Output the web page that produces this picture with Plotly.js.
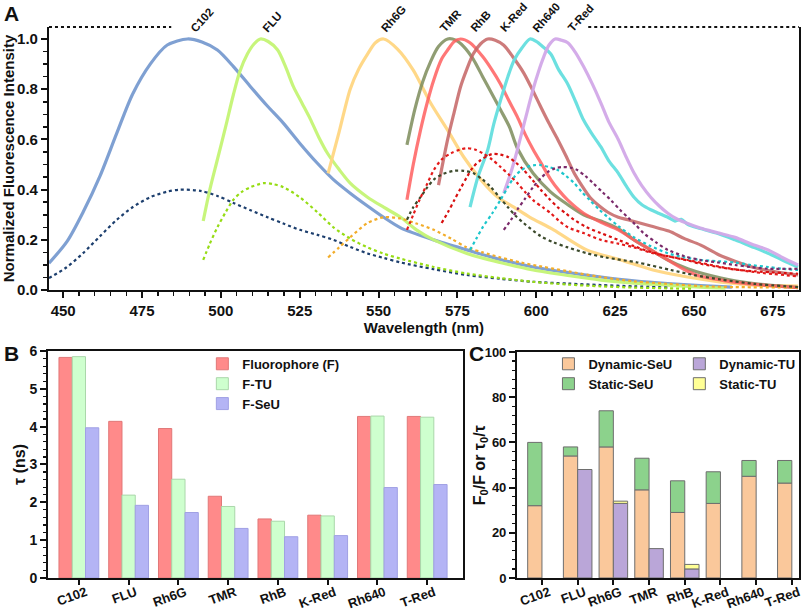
<!DOCTYPE html>
<html>
<head>
<meta charset="utf-8">
<script src="https://cdn.plot.ly/plotly-3.0.1.min.js"></script>
<style>
  html, body { margin: 0; padding: 0; background: #fff; }
  #chart { width: 803px; height: 612px; }
</style>
</head>
<body>
<div id="chart"></div>
<script>
// ---------------- Panel A: emission spectra ----------------
const c102_wl = [445.5, 451.3, 456.3, 461.7, 467, 472, 477.6, 483, 489.4, 494, 498.9, 504, 509.4, 514.6, 519.8, 525, 530.6, 535.7, 541, 546.5, 551.6, 557, 567.5, 578, 588.5, 599, 610, 620.5, 631, 641.7, 652, 662];
const c102_F  = [0.107, 0.195, 0.31, 0.455, 0.625, 0.78, 0.9, 0.976, 1.0, 0.988, 0.956, 0.89, 0.81, 0.735, 0.665, 0.585, 0.505, 0.44, 0.386, 0.335, 0.29, 0.248, 0.2, 0.16, 0.122, 0.092, 0.07, 0.052, 0.037, 0.026, 0.018, 0.012];
const c102_q_wl = [445.5, 451, 456.3, 461.7, 467, 472, 477.6, 483, 487, 493.5, 498.9, 504, 509.4, 514.8, 519.8, 525, 530.6, 535.7, 541, 546.5, 551.6, 557, 567.5, 578, 588.5, 599, 610, 620.5, 631, 641.7];
const c102_q  = [0.048, 0.09, 0.147, 0.215, 0.28, 0.33, 0.37, 0.392, 0.40, 0.395, 0.375, 0.347, 0.318, 0.29, 0.265, 0.24, 0.22, 0.2, 0.172, 0.146, 0.128, 0.11, 0.083, 0.06, 0.045, 0.033, 0.026, 0.02, 0.015, 0.01];

const flu_wl = [494.4, 496.5, 498.9, 501.5, 504, 506, 508.4, 510.5, 512.5, 515, 518, 520.5, 523, 525.7, 528.4, 531, 533.8, 537.5, 541, 546.5, 551.6, 557, 562, 567.5, 578, 588.5, 599, 610, 620.5, 631, 641.7, 652, 660];
const flu_F  = [0.275, 0.4, 0.52, 0.65, 0.78, 0.87, 0.94, 0.98, 1.0, 0.99, 0.956, 0.89, 0.81, 0.745, 0.68, 0.61, 0.545, 0.48, 0.426, 0.37, 0.33, 0.29, 0.24, 0.2, 0.146, 0.11, 0.08, 0.058, 0.04, 0.028, 0.02, 0.012, 0.008];
const flu_q_wl = [494.4, 496.5, 498.9, 501.5, 504, 506.5, 509.4, 513.5, 516.5, 519.8, 525, 530.6, 535.7, 541, 546.5, 551.6, 557, 567.5, 578, 588.5, 599, 610, 620.5, 631, 650];
const flu_q  = [0.12, 0.185, 0.25, 0.31, 0.36, 0.39, 0.41, 0.426, 0.422, 0.41, 0.37, 0.31, 0.25, 0.205, 0.17, 0.145, 0.125, 0.092, 0.066, 0.048, 0.033, 0.022, 0.015, 0.01, 0.005];

const rh6g_wl = [534, 537.5, 541, 543.7, 546.5, 549, 551.6, 556, 561, 566.5, 571.9, 577, 582.4, 587.8, 592.9, 598, 605.5, 616, 626.8, 637, 648, 658.6, 669, 683];
const rh6g_F  = [0.465, 0.63, 0.8, 0.88, 0.94, 0.985, 1.0, 0.96, 0.876, 0.745, 0.637, 0.53, 0.44, 0.37, 0.33, 0.29, 0.24, 0.16, 0.12, 0.08, 0.052, 0.032, 0.02, 0.016];
const rh6g_q_wl = [534, 537.5, 541, 546.5, 551.6, 557, 562, 567.5, 573, 578, 583, 588.7, 595, 599, 610, 620.5, 631, 641.7, 652, 663, 683];
const rh6g_q  = [0.13, 0.17, 0.21, 0.267, 0.29, 0.285, 0.265, 0.24, 0.205, 0.17, 0.15, 0.13, 0.11, 0.1, 0.075, 0.052, 0.035, 0.025, 0.016, 0.012, 0.01];

const tmr_wl = [559, 561.5, 564, 566.5, 569, 571.9, 574.5, 577, 580, 583, 585.8, 588.7, 591.5, 594, 599, 604.6, 610, 615, 620.5, 626, 631, 636.3, 641.7, 648, 658.6, 669, 683];
const tmr_F  = [0.578, 0.72, 0.83, 0.91, 0.97, 1.0, 0.995, 0.97, 0.92, 0.85, 0.785, 0.717, 0.65, 0.565, 0.465, 0.39, 0.34, 0.3, 0.275, 0.245, 0.2, 0.16, 0.12, 0.085, 0.048, 0.026, 0.01];
const tmr_q_wl = [559, 561, 563.3, 565.5, 567.5, 570, 574, 577, 580, 583, 585.6, 588.3, 591, 593.5, 596, 601.4, 605.5, 610, 616, 622, 632, 642.7, 650, 658.6, 669, 683];
const tmr_q  = [0.28, 0.33, 0.37, 0.41, 0.44, 0.46, 0.475, 0.475, 0.466, 0.44, 0.41, 0.37, 0.33, 0.295, 0.267, 0.215, 0.19, 0.17, 0.147, 0.13, 0.11, 0.08, 0.06, 0.042, 0.025, 0.012];

const rhb_wl = [559, 561, 563.3, 565.5, 567.5, 570, 571.9, 574, 576, 579, 583, 585.8, 588.7, 591.3, 594, 596.5, 599, 601.8, 604.6, 607.3, 610, 615, 620.5, 626, 631, 636.3, 641.7, 648, 652, 658.6, 664, 672, 683];
const rhb_F  = [0.36, 0.5, 0.637, 0.75, 0.837, 0.92, 0.956, 0.99, 1.0, 0.985, 0.93, 0.88, 0.82, 0.755, 0.69, 0.62, 0.56, 0.5, 0.44, 0.395, 0.358, 0.306, 0.27, 0.24, 0.2, 0.16, 0.12, 0.075, 0.055, 0.04, 0.03, 0.02, 0.01];
const rhb_q_wl = [559, 561, 563, 565.3, 567.5, 570, 573, 576, 578, 580.5, 583, 586, 588.7, 591.3, 594, 596.5, 599, 602, 604.6, 607.3, 610, 615, 620.5, 626, 631, 637, 648, 658.6, 669, 683];
const rhb_q  = [0.24, 0.3, 0.36, 0.42, 0.478, 0.52, 0.545, 0.56, 0.565, 0.56, 0.545, 0.52, 0.49, 0.46, 0.426, 0.39, 0.358, 0.33, 0.306, 0.275, 0.25, 0.227, 0.2, 0.185, 0.17, 0.147, 0.12, 0.092, 0.072, 0.055];

const kred_wl = [569, 571.9, 574, 576, 578, 580, 582.3, 584.6, 587, 589.7, 592.5, 596, 598.7, 601.4, 604, 606.8, 609.4, 612, 614.5, 617, 620, 622.7, 626, 629, 636.3, 642, 647, 652, 658, 663, 669, 675, 683];
const kred_F  = [0.418, 0.6, 0.71, 0.81, 0.88, 0.94, 0.98, 1.0, 0.995, 0.975, 0.93, 0.865, 0.8, 0.73, 0.665, 0.6, 0.535, 0.466, 0.415, 0.37, 0.335, 0.31, 0.29, 0.28, 0.255, 0.235, 0.205, 0.18, 0.14, 0.115, 0.09, 0.075, 0.06];
const kred_q_wl = [570, 572, 574, 576, 578, 580, 582.4, 586, 588.5, 591, 593.5, 596, 598.7, 601.4, 604, 606.8, 609.4, 612, 616, 620.5, 626, 631, 636.3, 641.7, 648, 652, 658.6, 663, 669, 683];
const kred_q  = [0.267, 0.31, 0.358, 0.405, 0.45, 0.49, 0.518, 0.542, 0.54, 0.53, 0.508, 0.478, 0.44, 0.4, 0.365, 0.33, 0.305, 0.28, 0.25, 0.227, 0.2, 0.175, 0.152, 0.135, 0.118, 0.105, 0.09, 0.082, 0.075, 0.065];

const rh640_wl = [579, 581.5, 584.6, 586.5, 588.7, 591, 593, 595.5, 598, 600, 602, 604.6, 607, 610, 612.5, 615, 617.5, 620.5, 623, 626, 628.5, 631, 633.5, 636.3, 639, 641.7, 644, 646, 648, 652, 657.6, 663, 668, 673.5, 678, 683];
const rh640_F  = [0.33, 0.45, 0.558, 0.66, 0.757, 0.85, 0.916, 0.965, 1.0, 0.99, 0.97, 0.94, 0.88, 0.82, 0.75, 0.677, 0.625, 0.57, 0.515, 0.466, 0.415, 0.37, 0.34, 0.32, 0.305, 0.29, 0.275, 0.282, 0.262, 0.245, 0.225, 0.2, 0.175, 0.147, 0.12, 0.092];
const rh640_q_wl = [579, 581, 583, 586, 588.7, 591, 593, 595, 597, 599, 601.4, 604, 606.8, 609.4, 612, 614.5, 617, 620, 622.7, 626, 631, 636.3, 641.7, 647, 652, 657.6, 663, 668, 673.5, 678, 683];
const rh640_q  = [0.16, 0.205, 0.25, 0.305, 0.36, 0.41, 0.45, 0.475, 0.49, 0.497, 0.498, 0.49, 0.478, 0.455, 0.426, 0.39, 0.358, 0.32, 0.29, 0.255, 0.21, 0.175, 0.147, 0.13, 0.12, 0.115, 0.11, 0.1, 0.092, 0.085, 0.08];

const tred_wl = [589.7, 592, 594, 596.5, 599, 600.7, 602.4, 604, 606, 608, 610, 612.5, 615, 617.8, 620.5, 623, 626, 628.5, 631, 633.5, 636.3, 639, 641.7, 644.3, 647, 652, 657.6, 663, 668, 673.5, 678, 683];
const tred_F  = [0.386, 0.47, 0.558, 0.68, 0.8, 0.87, 0.93, 0.975, 1.0, 0.995, 0.985, 0.945, 0.89, 0.82, 0.745, 0.67, 0.6, 0.53, 0.466, 0.415, 0.37, 0.335, 0.306, 0.285, 0.27, 0.247, 0.228, 0.21, 0.185, 0.16, 0.13, 0.1];
const tred_q_wl = [589.7, 592, 594, 596.5, 599, 601.4, 603.6, 606, 608.4, 611, 613, 615.5, 618, 621, 623.7, 626.5, 629, 631.5, 634, 638, 641.7, 647, 652, 657.6, 663, 668, 673.5, 683];
const tred_q  = [0.24, 0.28, 0.32, 0.365, 0.41, 0.445, 0.47, 0.485, 0.49, 0.487, 0.478, 0.455, 0.426, 0.39, 0.358, 0.32, 0.29, 0.26, 0.227, 0.19, 0.16, 0.135, 0.12, 0.11, 0.1, 0.092, 0.085, 0.085];

const dyeNames = ['C102', 'FLU', 'Rh6G', 'TMR', 'RhB', 'K-Red', 'Rh640', 'T-Red'];
const solidColors = ['rgba(120,155,208,0.95)', 'rgba(196,244,116,0.95)', 'rgba(255,214,130,0.95)', 'rgba(125,140,90,0.85)', 'rgba(255,95,95,0.85)', 'rgba(196,100,100,0.85)', 'rgba(100,222,222,0.95)', 'rgba(210,168,232,0.95)'];
const dotColors = ['#1d3f6e', '#96dc14', '#f2ad2a', '#3c4a2c', '#e41a1a', '#d81010', '#1cc6cc', '#7a2a6a'];

const solidSets = [[c102_wl, c102_F], [flu_wl, flu_F], [rh6g_wl, rh6g_F], [tmr_wl, tmr_F], [rhb_wl, rhb_F], [kred_wl, kred_F], [rh640_wl, rh640_F], [tred_wl, tred_F]];
const dotSets = [[c102_q_wl, c102_q], [flu_q_wl, flu_q], [rh6g_q_wl, rh6g_q], [tmr_q_wl, tmr_q], [rhb_q_wl, rhb_q], [kred_q_wl, kred_q], [rh640_q_wl, rh640_q], [tred_q_wl, tred_q]];

// ---------------- Panel B: lifetimes ----------------
const categories = ['C102', 'FLU', 'Rh6G', 'TMR', 'RhB', 'K-Red', 'Rh640', 'T-Red'];
const tau_F    = [5.83, 4.14, 3.95, 2.16, 1.56, 1.66, 4.27, 4.27];
const tau_FTU  = [5.85, 2.19, 2.61, 1.89, 1.50, 1.64, 4.28, 4.25];
const tau_FSeU = [3.97, 1.92, 1.73, 1.31, 1.09, 1.12, 2.39, 2.47];

// ---------------- Panel C: quenching ----------------
const dynamic_SeU = [32, 54, 58, 39, 29, 33, 45, 42];
const static_SeU  = [28, 4, 16, 14, 14, 14, 7, 10];
const dynamic_TU  = [0, 48, 33, 13, 4, 0, 0, 0];
const static_TU   = [0, 0, 1, 0, 2, 0, 0, 0];

const FONT = 'Liberation Sans, Arial, sans-serif';
const nz = a => a.map(v => (v === 0 ? null : v));

const traces = [];
solidSets.forEach((s, i) => {
  traces.push({
    type: 'scatter', mode: 'lines', x: s[0], y: s[1], xaxis: 'x', yaxis: 'y',
    line: { color: solidColors[i], width: 3.2, shape: 'spline', smoothing: 0.8 },
    showlegend: false, hoverinfo: 'skip', name: dyeNames[i]
  });
});
dotSets.forEach((s, i) => {
  traces.push({
    type: 'scatter', mode: 'lines', x: s[0], y: s[1], xaxis: 'x', yaxis: 'y',
    line: { color: dotColors[i], width: 2.2, dash: '3px,3px', shape: 'spline', smoothing: 0.8 },
    showlegend: false, hoverinfo: 'skip', name: dyeNames[i] + ' quenched'
  });
});

// Panel B bars
traces.push({ type: 'bar', name: 'Fluorophore (F)', x: categories, y: tau_F, xaxis: 'x2', yaxis: 'y2', offsetgroup: 'b1',
  marker: { color: 'rgb(255,138,138)', line: { color: 'rgb(225,120,120)', width: 1 } }, legend: 'legend' });
traces.push({ type: 'bar', name: 'F-TU', x: categories, y: tau_FTU, xaxis: 'x2', yaxis: 'y2', offsetgroup: 'b2',
  marker: { color: 'rgb(206,255,206)', line: { color: 'rgb(170,215,170)', width: 1 } }, legend: 'legend' });
traces.push({ type: 'bar', name: 'F-SeU', x: categories, y: tau_FSeU, xaxis: 'x2', yaxis: 'y2', offsetgroup: 'b3',
  marker: { color: 'rgb(180,180,245)', line: { color: 'rgb(160,160,228)', width: 1 } }, legend: 'legend' });

// Panel C stacked-grouped bars
const cLine = { color: 'rgb(110,110,110)', width: 1 };
traces.push({ type: 'bar', name: 'Dynamic-SeU', x: categories, y: nz(dynamic_SeU), xaxis: 'x3', yaxis: 'y3', offsetgroup: 'seu',
  marker: { color: 'rgb(250,200,155)', line: cLine }, legend: 'legend2' });
traces.push({ type: 'bar', name: 'Static-SeU', x: categories, y: nz(static_SeU), base: dynamic_SeU, xaxis: 'x3', yaxis: 'y3', offsetgroup: 'seu',
  marker: { color: 'rgb(140,210,140)', line: cLine }, legend: 'legend2' });
traces.push({ type: 'bar', name: 'Dynamic-TU', x: categories, y: nz(dynamic_TU), xaxis: 'x3', yaxis: 'y3', offsetgroup: 'tu',
  marker: { color: 'rgb(186,166,216)', line: cLine }, legend: 'legend3' });
traces.push({ type: 'bar', name: 'Static-TU', x: categories, y: nz(static_TU), base: dynamic_TU, xaxis: 'x3', yaxis: 'y3', offsetgroup: 'tu',
  marker: { color: 'rgb(255,255,150)', line: cLine }, legend: 'legend3' });

const tickFontA = { family: FONT, size: 15, color: '#111', weight: 'bold' };
const tickFontB = { family: FONT, size: 13, color: '#111', weight: 'bold' };
const titleFont = { family: FONT, size: 15, color: '#111', weight: 'bold' };
const axisCommon = { showline: true, linecolor: '#111', linewidth: 2, ticks: 'outside', tickcolor: '#111', tickwidth: 2, ticklen: 6, showgrid: false, zeroline: false };

// label placement along the wavelength axis (layout only)
const labelWl = [488.7, 511.6, 549, 568, 577.6, 587, 597.3, 608.4];
const annotations = dyeNames.map((name, i) => ({
  x: labelWl[i], y: 1.008, xref: 'x', yref: 'y', text: name, showarrow: false,
  textangle: -48, xanchor: 'left', yanchor: 'bottom', font: { family: FONT, size: 11.5, color: '#111', weight: 'bold' }
}));
annotations.push({ text: 'A', x: 0.002, y: 1.0, xref: 'paper', yref: 'paper', xanchor: 'left', yanchor: 'top', showarrow: false, font: { family: FONT, size: 21, color: '#111', weight: 'bold' } });
annotations.push({ text: 'B', x: 0.002, y: 0.445, xref: 'paper', yref: 'paper', xanchor: 'left', yanchor: 'top', showarrow: false, font: { family: FONT, size: 21, color: '#111', weight: 'bold' } });
annotations.push({ text: 'C', x: 0.581, y: 0.445, xref: 'paper', yref: 'paper', xanchor: 'left', yanchor: 'top', showarrow: false, font: { family: FONT, size: 21, color: '#111', weight: 'bold' } });
annotations.push({ text: 'F<sub>0</sub>/F or τ<sub>0</sub>/τ', x: 0.598, y: 0.24, xref: 'paper', yref: 'paper', xanchor: 'center', yanchor: 'middle', textangle: -90, showarrow: false, font: { family: FONT, size: 16, color: '#111', weight: 'bold' } });

const legendCommon = { bgcolor: 'rgba(0,0,0,0)', font: { family: FONT, size: 13, color: '#111', weight: 'bold' }, yanchor: 'top', xanchor: 'left', tracegroupgap: 0, itemwidth: 30 };

const layout = {
  width: 803, height: 612,
  margin: { l: 0, r: 0, t: 0, b: 0 },
  paper_bgcolor: '#fff', plot_bgcolor: '#fff',
  barmode: 'group', bargap: 0.2, bargroupgap: 0,
  xaxis: Object.assign({}, axisCommon, {
    domain: [0.061, 0.995], anchor: 'y', range: [445.5, 683.3], tickvals: [450, 475, 500, 525, 550, 575, 600, 625, 650, 675], tickfont: tickFontA,
    minor: { dtick: 5, tick0: 0, ticks: 'outside', ticklen: 4, tickwidth: 1.5, tickcolor: '#111' },
    title: { text: 'Wavelength (nm)', font: titleFont, standoff: 0 }
  }),
  yaxis: Object.assign({}, axisCommon, {
    domain: [0.526, 0.956], anchor: 'x', range: [0, 1.048], tickvals: [0, 0.2, 0.4, 0.6, 0.8, 1.0], tickformat: '.1f', mirror: true, tickfont: tickFontA,
    minor: { dtick: 0.05, tick0: 0, ticks: 'outside', ticklen: 4, tickwidth: 1.5, tickcolor: '#111' },
    title: { text: 'Normalized Fluorescence Intensity', font: titleFont, standoff: 3 }
  }),
  xaxis2: Object.assign({}, axisCommon, {
    domain: [0.0598, 0.5766], anchor: 'y2', type: 'category', range: [-0.62, 7.72], mirror: true, tickangle: -20, ticklen: 5,
    ticklabelstandoff: -5, ticklabelshift: 7, tickfont: tickFontB
  }),
  yaxis2: Object.assign({}, axisCommon, {
    domain: [0.0556, 0.4265], anchor: 'x2', range: [0, 6], dtick: 1, mirror: true, tickfont: Object.assign({}, tickFontB, { size: 14 }),
    minor: { dtick: 0.2, ticks: 'outside', ticklen: 3, tickwidth: 1.2, tickcolor: '#111' },
    title: { text: 'τ (ns)', font: Object.assign({}, titleFont, { size: 16 }), standoff: 0 }
  }),
  xaxis3: Object.assign({}, axisCommon, {
    domain: [0.6438, 0.995], anchor: 'y3', type: 'category', range: [-0.7, 7.2], mirror: true, tickangle: -20, ticklen: 5,
    ticklabelstandoff: -5, ticklabelshift: 7, tickfont: tickFontB
  }),
  yaxis3: Object.assign({}, axisCommon, {
    domain: [0.0556, 0.4248], anchor: 'x3', range: [0, 100], dtick: 20, mirror: true, tickfont: tickFontB,
    minor: { dtick: 4, ticks: 'outside', ticklen: 3, tickwidth: 1.2, tickcolor: '#111' }
  }),
  legend: Object.assign({}, legendCommon, { x: 0.252, y: 0.43 }),
  legend2: Object.assign({}, legendCommon, { x: 0.683, y: 0.43 }),
  legend3: Object.assign({}, legendCommon, { x: 0.846, y: 0.43 }),
  annotations: annotations,
  shapes: [
    { type: 'line', xref: 'x domain', yref: 'y domain', x0: 0, x1: 0.163, y0: 1, y1: 1, line: { color: '#111', width: 2, dash: 'dot' } },
    { type: 'line', xref: 'x domain', yref: 'y domain', x0: 0.719, x1: 1, y0: 1, y1: 1, line: { color: '#111', width: 2, dash: 'dot' } }
  ],
  showlegend: true
};

Plotly.newPlot('chart', traces, layout, { staticPlot: true, displayModeBar: false });
</script>
</body>
</html>
